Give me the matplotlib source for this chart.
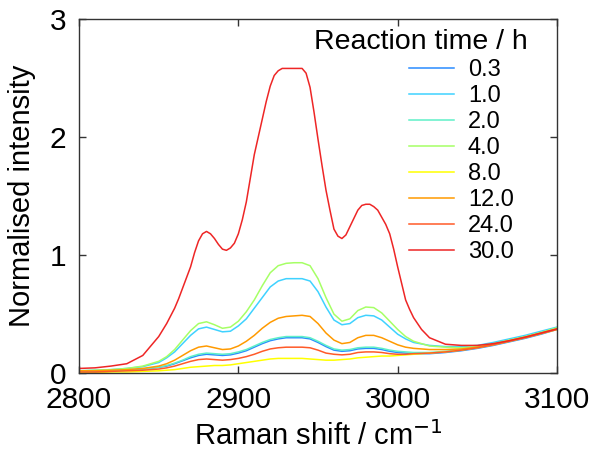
import matplotlib
matplotlib.use('Agg')
import matplotlib.pyplot as plt

plt.rcParams['font.family'] = ['Liberation Sans', 'DejaVu Sans']

# Raman shift grid (cm-1)
shift = [2800, 2810, 2820, 2830, 2840, 2850, 2855, 2860, 2865, 2870,
         2875, 2880, 2885, 2890, 2895, 2900, 2905, 2910, 2915, 2920,
         2925, 2930, 2935, 2940, 2945, 2950, 2955, 2960, 2965, 2970,
         2975, 2980, 2985, 2990, 2995, 3000, 3005, 3010, 3020, 3030,
         3040, 3050, 3060, 3070, 3080, 3090, 3100]

# finer grid for the 30 h spectrum (sharper features)
shift_30 = [2800, 2810, 2820, 2830, 2840, 2850, 2855, 2860, 2862.5, 2865,
            2867.5, 2870, 2872.5, 2875, 2877.5, 2880, 2882.5, 2885, 2887.5, 2890,
            2892.5, 2895, 2897.5, 2900, 2902.5, 2905, 2907.5, 2910, 2912.5, 2915,
            2917.5, 2920, 2922.5, 2925, 2927.5, 2930, 2935, 2940, 2942.5, 2945,
            2947.5, 2950, 2952.5, 2955, 2957.5, 2960, 2962.5, 2965, 2967.5, 2970,
            2972.5, 2975, 2977.5, 2980, 2982.5, 2985, 2987.5, 2990, 2992.5, 2995,
            2997.5, 3000, 3002.5, 3005, 3007.5, 3010, 3015, 3020, 3030, 3040,
            3050, 3060, 3070, 3080, 3090, 3100]

times = ['0.3', '1.0', '2.0', '4.0', '8.0', '12.0', '24.0', '30.0']
colors = ['#2a8cff', '#3fd2ff', '#5ff0c8', '#a6ff66', '#ffff00', '#ff9a00', '#ff5a28', '#ee2626']

t_0p3 = [0.01, 0.015, 0.02, 0.025, 0.035, 0.05, 0.06, 0.08, 0.105, 0.13,
         0.15, 0.16, 0.155, 0.15, 0.155, 0.17, 0.19, 0.22, 0.25, 0.275,
         0.29, 0.30, 0.30, 0.30, 0.29, 0.26, 0.225, 0.195, 0.185, 0.19,
         0.205, 0.21, 0.21, 0.20, 0.185, 0.175, 0.17, 0.165, 0.165, 0.175,
         0.19, 0.21, 0.235, 0.265, 0.295, 0.33, 0.37]
t_1 = [0.02, 0.025, 0.03, 0.04, 0.055, 0.09, 0.13, 0.18, 0.25, 0.32,
       0.375, 0.39, 0.37, 0.35, 0.355, 0.40, 0.46, 0.55, 0.64, 0.73,
       0.78, 0.80, 0.80, 0.80, 0.78, 0.69, 0.56, 0.45, 0.41, 0.42,
       0.47, 0.49, 0.485, 0.45, 0.39, 0.33, 0.29, 0.26, 0.235, 0.225,
       0.225, 0.235, 0.26, 0.29, 0.32, 0.355, 0.39]
t_2 = [0.015, 0.02, 0.02, 0.025, 0.035, 0.05, 0.065, 0.085, 0.11, 0.14,
       0.16, 0.17, 0.165, 0.16, 0.165, 0.18, 0.20, 0.23, 0.26, 0.285,
       0.30, 0.31, 0.31, 0.31, 0.30, 0.27, 0.235, 0.205, 0.195, 0.20,
       0.215, 0.22, 0.22, 0.21, 0.195, 0.185, 0.18, 0.175, 0.175, 0.185,
       0.20, 0.22, 0.245, 0.275, 0.305, 0.34, 0.38]
t_4 = [0.02, 0.025, 0.03, 0.04, 0.06, 0.10, 0.14, 0.20, 0.28, 0.36,
       0.42, 0.435, 0.41, 0.38, 0.39, 0.44, 0.52, 0.62, 0.74, 0.85,
       0.91, 0.93, 0.935, 0.935, 0.91, 0.80, 0.64, 0.50, 0.44, 0.46,
       0.53, 0.56, 0.555, 0.51, 0.44, 0.37, 0.31, 0.27, 0.23, 0.22,
       0.215, 0.225, 0.25, 0.28, 0.31, 0.345, 0.385]
t_8 = [0.005, 0.005, 0.01, 0.01, 0.015, 0.02, 0.025, 0.03, 0.04, 0.05,
       0.055, 0.06, 0.065, 0.065, 0.07, 0.08, 0.09, 0.10, 0.11, 0.12,
       0.125, 0.125, 0.125, 0.125, 0.12, 0.115, 0.11, 0.11, 0.115, 0.12,
       0.13, 0.135, 0.14, 0.145, 0.145, 0.15, 0.155, 0.16, 0.17, 0.18,
       0.195, 0.215, 0.24, 0.27, 0.30, 0.335, 0.37]
t_12 = [0.02, 0.02, 0.025, 0.03, 0.04, 0.06, 0.08, 0.11, 0.15, 0.19,
        0.22, 0.23, 0.215, 0.20, 0.205, 0.23, 0.27, 0.32, 0.38, 0.43,
        0.465, 0.48, 0.485, 0.49, 0.48, 0.42, 0.34, 0.28, 0.25, 0.26,
        0.30, 0.32, 0.32, 0.30, 0.27, 0.24, 0.22, 0.21, 0.20, 0.20,
        0.205, 0.22, 0.245, 0.275, 0.305, 0.34, 0.375]
t_24 = [0.01, 0.01, 0.015, 0.02, 0.025, 0.035, 0.045, 0.06, 0.08, 0.10,
        0.115, 0.12, 0.115, 0.11, 0.115, 0.125, 0.14, 0.16, 0.185, 0.205,
        0.215, 0.22, 0.22, 0.22, 0.215, 0.195, 0.17, 0.16, 0.155, 0.16,
        0.175, 0.18, 0.18, 0.175, 0.165, 0.16, 0.16, 0.165, 0.17, 0.18,
        0.195, 0.215, 0.24, 0.27, 0.30, 0.335, 0.37]
t_30 = [0.04, 0.045, 0.06, 0.08, 0.15, 0.31, 0.42, 0.55, 0.63, 0.72,
        0.81, 0.90, 1.02, 1.12, 1.18, 1.20, 1.18, 1.14, 1.09, 1.05,
        1.04, 1.06, 1.10, 1.18, 1.30, 1.45, 1.65, 1.85, 2.00, 2.15,
        2.30, 2.43, 2.52, 2.56, 2.58, 2.58, 2.58, 2.58, 2.54, 2.42,
        2.21, 1.98, 1.76, 1.55, 1.38, 1.22, 1.16, 1.14, 1.17, 1.24,
        1.31, 1.38, 1.42, 1.43, 1.43, 1.41, 1.38, 1.32, 1.26, 1.18,
        1.05, 0.90, 0.76, 0.62, 0.54, 0.47, 0.37, 0.30, 0.245, 0.235,
        0.235, 0.25, 0.275, 0.305, 0.34, 0.375]

series = [t_0p3, t_1, t_2, t_4, t_8, t_12, t_24]

fig = plt.figure(figsize=(5.9, 4.59), dpi=100)
ax = fig.add_axes([0.134, 0.187, 0.810, 0.772])

for lab, col, vals in zip(times[:-1], colors[:-1], series):
    ax.plot(shift, vals, color=col, linewidth=1.1, label=lab)
ax.plot(shift_30, t_30, color=colors[-1], linewidth=1.1, label=times[-1])

ax.set_xlim(2800, 3100)
ax.set_ylim(0, 3)
ax.set_xticks([2800, 2900, 3000, 3100])
ax.set_yticks([0, 1, 2, 3])
for s in ['top', 'bottom', 'left', 'right']:
    ax.spines[s].set_linewidth(1.0)
    ax.spines[s].set_color('#333333')
ax.tick_params('both', direction='in', top=True, right=True, length=5,
               width=1.0, color='#333333', labelsize=21.5)
ax.tick_params('x', pad=9)
ax.tick_params('y', pad=9)

ax.set_xlabel('Raman shift / cm$^{-1}$', fontsize=21, labelpad=5)
ax.set_ylabel('Normalised intensity', fontsize=21, labelpad=10)

ax.text(0.715, 0.935, 'Reaction time / h', transform=ax.transAxes,
        ha='center', va='center', fontsize=20.5)
ax.legend(loc='upper left', bbox_to_anchor=(0.69, 0.887), frameon=False,
          fontsize=17, handlelength=1.9, handletextpad=0.6, labelspacing=0.17,
          borderaxespad=0, borderpad=0)

fig.savefig('out.png', dpi=100)
